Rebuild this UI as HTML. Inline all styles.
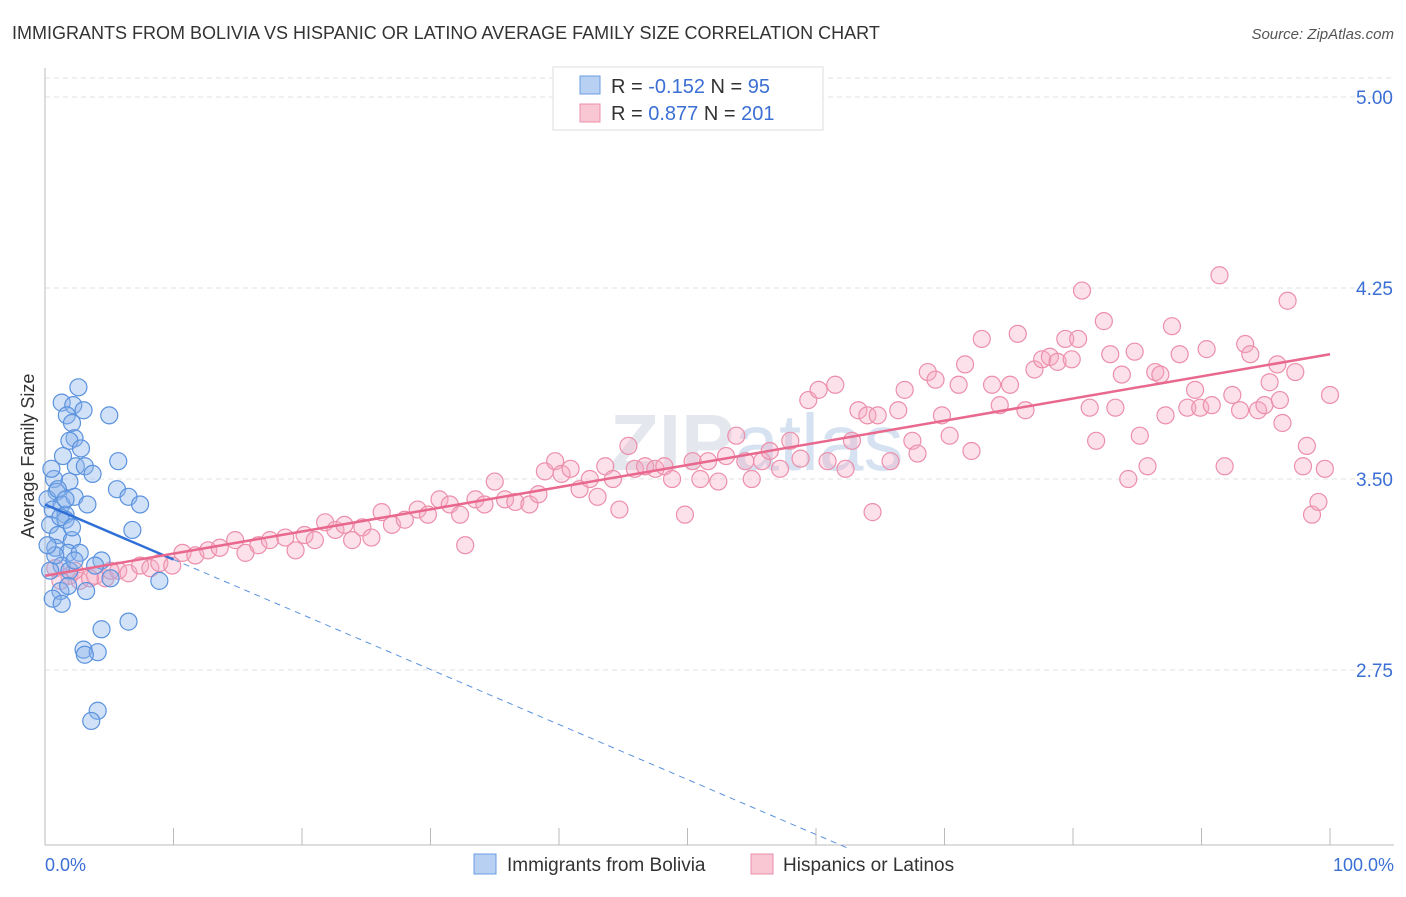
<!DOCTYPE html>
<html><head><meta charset="utf-8"><style>
body{margin:0;background:#fff;font-family:"Liberation Sans",sans-serif}
svg text{font-family:"Liberation Sans",sans-serif}
</style></head><body>
<svg id="c" width="1406" height="892" xmlns="http://www.w3.org/2000/svg">
<text x="12" y="39" font-size="18" fill="#333">IMMIGRANTS FROM BOLIVIA VS HISPANIC OR LATINO AVERAGE FAMILY SIZE CORRELATION CHART</text>
<text x="1394" y="39" font-size="15" fill="#555" font-style="italic" text-anchor="end">Source: ZipAtlas.com</text>
<text x="610" y="470" font-size="80" fill="#e4e8ee" font-weight="bold" font-family="Liberation Serif">ZIP<tspan fill="#d6e2f2" font-family="Liberation Sans" font-weight="normal">atlas</tspan></text>
<g id="grid"></g><g id="axes"></g><g id="pts"></g><g id="trend"></g>
<text transform="translate(34,456) rotate(-90)" font-size="18" fill="#333" text-anchor="middle">Average Family Size</text>
<text x="45" y="871" font-size="18" fill="#3b6fd4">0.0%</text>
<text x="1394" y="871" font-size="18" fill="#3b6fd4" text-anchor="end">100.0%</text>
<g>
<rect x="553" y="67" width="270" height="63" fill="#fff" stroke="#ddd"/>
<rect x="580" y="76" width="20" height="18" fill="#b8d0f2" stroke="#6a9be0"/>
<rect x="580" y="104" width="20" height="18" fill="#f9c6d4" stroke="#ec8fab"/>
<text x="611" y="93" font-size="20" fill="#333">R = <tspan fill="#3b6fd4">-0.152</tspan>   N = <tspan fill="#3b6fd4"> 95</tspan></text>
<text x="611" y="120" font-size="20" fill="#333">R =  <tspan fill="#3b6fd4">0.877</tspan>   N = <tspan fill="#3b6fd4">201</tspan></text>
</g>
<g><rect x="474" y="854" width="22" height="20" fill="#b8d0f2" stroke="#6a9be0"/><text x="507" y="871" font-size="19" fill="#333">Immigrants from Bolivia</text></g>
<g><rect x="751" y="854" width="22" height="20" fill="#f9c6d4" stroke="#ec8fab"/><text x="783" y="871" font-size="19" fill="#333">Hispanics or Latinos</text></g>
</svg>
<script>
const yTicks=[5.00,4.25,3.50,2.75];
const yTickLabels=["5.00","4.25","3.50","2.75"];
const xTicks=[0,10,20,30,40,50,60,70,80,90,100];
const blueX=[2.6,1.3,2.2,3.0,1.7,5.0,2.1,2.3,1.9,2.8,1.4,5.7,2.4,3.1,3.7,0.7,1.9,5.6,0.9,6.5,7.4,0.2,1.3,2.3,0.6,1.6,6.8,0.4,1.0,2.1,0.8,1.8,2.7,1.3,1.9,4.4,0.4,5.1,8.9,1.2,3.2,0.6,1.3,6.5,4.4,3.0,4.1,3.1,4.1,3.6,0.8,1.6,0.5,1.0,1.6,3.3,1.2,2.1,0.2,2.3,3.9,1.8];
const blueY=[3.86,3.80,3.79,3.77,3.75,3.75,3.72,3.66,3.65,3.62,3.59,3.57,3.55,3.55,3.52,3.50,3.49,3.46,3.45,3.43,3.40,3.42,3.40,3.43,3.38,3.36,3.30,3.32,3.28,3.26,3.23,3.21,3.21,3.16,3.14,3.18,3.14,3.11,3.10,3.06,3.06,3.03,3.01,2.94,2.91,2.83,2.82,2.81,2.59,2.55,3.20,3.34,3.54,3.46,3.42,3.40,3.35,3.31,3.24,3.18,3.16,3.08];
const pinkX=[0.8,1.9,2.7,3.9,4.7,5.7,6.5,7.4,8.2,8.9,9.9,10.7,11.7,12.7,13.6,14.8,15.6,16.6,17.5,18.7,19.5,20.2,21.0,21.8,22.6,23.3,23.9,24.7,25.4,26.2,27.0,28.0,29.0,29.8,30.7,31.5,32.3,32.7,33.5,34.2,35.0,35.8,36.6,37.7,38.4,38.9,39.7,40.2,40.9,41.6,42.4,43.0,43.6,44.2,44.7,45.4,45.9,46.7,47.5,48.2,48.8,49.8,50.4,51.0,51.6,52.4,53.0,53.8,54.5,55.0,55.8,56.4,57.2,58.0,58.8,59.4,60.2,60.9,61.5,62.3,62.8,63.3,64.0,64.4,64.8,65.8,66.4,66.9,67.5,67.9,68.7,69.3,69.8,70.4,71.1,71.6,72.1,72.9,73.7,74.3,75.1,75.7,76.3,77.0,77.6,78.2,78.8,79.4,79.9,80.4,80.7,81.3,81.8,82.4,82.9,83.3,83.8,84.3,84.8,85.2,85.8,86.4,86.8,87.2,87.7,88.3,88.9,89.5,89.9,90.4,90.8,91.4,91.8,92.4,93.0,93.4,93.8,94.4,94.9,95.3,95.9,96.3,96.7,97.3,97.9,98.2,98.6,99.1,99.6,100,96.1,1.2,2.3,5.1,3.5];
const pinkY=[3.15,3.12,3.10,3.12,3.11,3.14,3.13,3.16,3.15,3.17,3.16,3.21,3.20,3.22,3.23,3.26,3.21,3.24,3.26,3.27,3.22,3.28,3.26,3.33,3.30,3.32,3.26,3.31,3.27,3.37,3.32,3.34,3.38,3.36,3.42,3.40,3.36,3.24,3.42,3.40,3.49,3.42,3.41,3.40,3.44,3.53,3.57,3.52,3.54,3.46,3.50,3.43,3.55,3.50,3.38,3.63,3.54,3.55,3.54,3.55,3.50,3.36,3.57,3.50,3.57,3.49,3.59,3.67,3.57,3.50,3.57,3.61,3.54,3.65,3.58,3.81,3.85,3.57,3.87,3.54,3.65,3.77,3.75,3.37,3.75,3.57,3.77,3.85,3.65,3.60,3.92,3.89,3.75,3.67,3.87,3.95,3.61,4.05,3.87,3.79,3.87,4.07,3.77,3.93,3.97,3.98,3.96,4.05,3.97,4.05,4.24,3.78,3.65,4.12,3.99,3.78,3.91,3.50,4.00,3.67,3.55,3.92,3.91,3.75,4.10,3.99,3.78,3.85,3.78,4.01,3.79,4.30,3.55,3.83,3.77,4.03,3.99,3.77,3.79,3.88,3.95,3.72,4.20,3.92,3.55,3.63,3.36,3.41,3.54,3.83,3.81,3.10,3.14,3.14,3.11];
const blueTrend=[3.40,-0.0216];
const pinkTrend=[3.12,0.0087];
const NS="http://www.w3.org/2000/svg";
const X=v=>45+v*12.85;
const Y=v=>97+(5-v)*254.67;
function mk(p,t,a){const e=document.createElementNS(NS,t);for(const k in a)e.setAttribute(k,a[k]);document.getElementById(p).appendChild(e);return e;}
let g=mk('grid','line',{x1:45,x2:1394,y1:78,y2:78,stroke:'#e2e2e2','stroke-dasharray':'5,4'});


yTicks.forEach((t,i)=>{
 const l=mk('grid','line',{x1:45,x2:1394,y1:Y(t),y2:Y(t),stroke:'#e2e2e2','stroke-dasharray':'5,4'});
 
 
 const tx=mk('grid','text',{x:1393,y:Y(t)+7,'font-size':19,fill:'#3b6fd4','text-anchor':'end'});
 tx.textContent=yTickLabels[i];
 
 
});
let ax=mk('axes','line',{x1:45,x2:45,y1:68,y2:845,stroke:'#bbb'});


let bx=mk('axes','line',{x1:45,x2:1394,y1:845,y2:845,stroke:'#bbb'});


xTicks.forEach(t=>{
 const l=mk('axes','line',{x1:X(t),x2:X(t),y1:828,y2:845,stroke:'#bbb'});
 
 
});
pinkX.forEach((x,i)=>{
 const c=mk('pts','circle',{cx:X(x),cy:Y(pinkY[i]),r:8.5,fill:'rgba(246,170,194,0.35)',stroke:'#ec8fab','stroke-width':1.2});
 
 
});
blueX.forEach((x,i)=>{
 const c=mk('pts','circle',{cx:X(x),cy:Y(blueY[i]),r:8.5,fill:'rgba(140,180,235,0.4)',stroke:'#5b92de','stroke-width':1.2});
 
 
});
const bt=x=>blueTrend[0]+blueTrend[1]*x;
const pt=x=>pinkTrend[0]+pinkTrend[1]*x;
let d=mk('trend','line',{x1:X(10),y1:Y(bt(10)),x2:X(62.6),y2:Y(bt(62.6)),stroke:'#5b92de','stroke-width':1,'stroke-dasharray':'6,5'});


let s=mk('trend','line',{x1:X(0),y1:Y(bt(0)),x2:X(10),y2:Y(bt(10)),stroke:'#2f6fd6','stroke-width':2.5});


let p=mk('trend','line',{x1:X(0),y1:Y(pt(0)),x2:X(100),y2:Y(pt(100)),stroke:'#e8688e','stroke-width':2.5});


</script>
</body></html>
